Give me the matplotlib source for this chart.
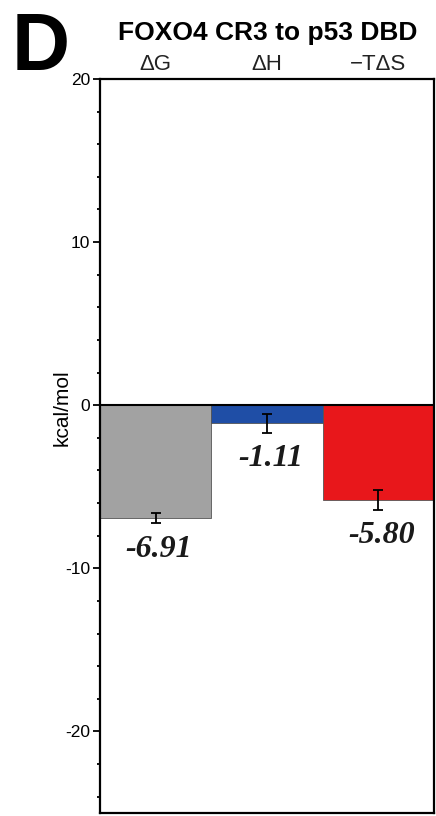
import matplotlib
matplotlib.use("Agg")
import matplotlib.pyplot as plt
import numpy as np

plt.rcParams["axes.unicode_minus"] = False

categories = ["\u0394G", "\u0394H", "\u2212T\u0394S"]
values = [-6.91, -1.11, -5.80]
errors = [0.32, 0.58, 0.60]
labels = ["-6.91", "-1.11", "-5.80"]
colors = ["#a2a2a2", "#1f4ea6", "#e8171b"]

fig = plt.figure(figsize=(4.36, 8.16), dpi=100)
ax = fig.add_axes([100/436, 3/816, 334/436, 734/816])

x = np.arange(len(categories))
ax.bar(x, values, width=1.0, color=colors, edgecolor="#555555", linewidth=0.6, zorder=2)
ax.errorbar(x, values, yerr=errors, fmt="none", ecolor="black", elinewidth=1.3,
            capsize=3.5, capthick=1.3, zorder=3)
ax.axhline(0, color="black", linewidth=1.5, zorder=4)

for xi, v, e, lab in zip(x, values, errors, labels):
    ax.text(xi + 0.03, v - e - 1.6, lab, ha="center", va="center",
            fontsize=23, fontweight="bold", fontstyle="italic",
            family="Liberation Serif", color="#1a1a1a")

ax.set_xlim(-0.5, 2.5)
ax.set_ylim(-25, 20)
ax.set_yticks([-20, -10, 0, 10, 20])
ax.set_yticks(np.arange(-24, 20, 2), minor=True)
ax.set_xticks([])
ax.tick_params(axis="y", which="major", direction="out", length=5, width=1.3,
               labelsize=12.5, pad=2)
ax.tick_params(axis="y", which="minor", direction="out", length=2.5, width=1.3)
for lbl in ax.get_yticklabels():
    lbl.set_family("Liberation Sans")
for sp in ax.spines.values():
    sp.set_linewidth(1.6)

fig.text(62/436, 1 - 408/816, "kcal/mol", rotation=90, ha="center", va="center",
         fontsize=15, family="Liberation Sans")

fig.text(268/436, 1 - 33/816, "FOXO4 CR3 to p53 DBD", ha="center", va="center",
         fontsize=19, fontweight="bold", family="Liberation Sans")
for xi, c in zip(x, categories):
    xf = (100 + (xi + 0.5) * 334 / 3) / 436
    fig.text(xf, 1 - 64/816, c, ha="center", va="center", fontsize=16,
             family="Liberation Sans", color="#222222")

fig.text(41/436, 1 - 70/816, "D", ha="center", va="baseline", fontsize=58,
         fontweight="bold", family="Liberation Sans")

fig.savefig("out.png", dpi=100)
